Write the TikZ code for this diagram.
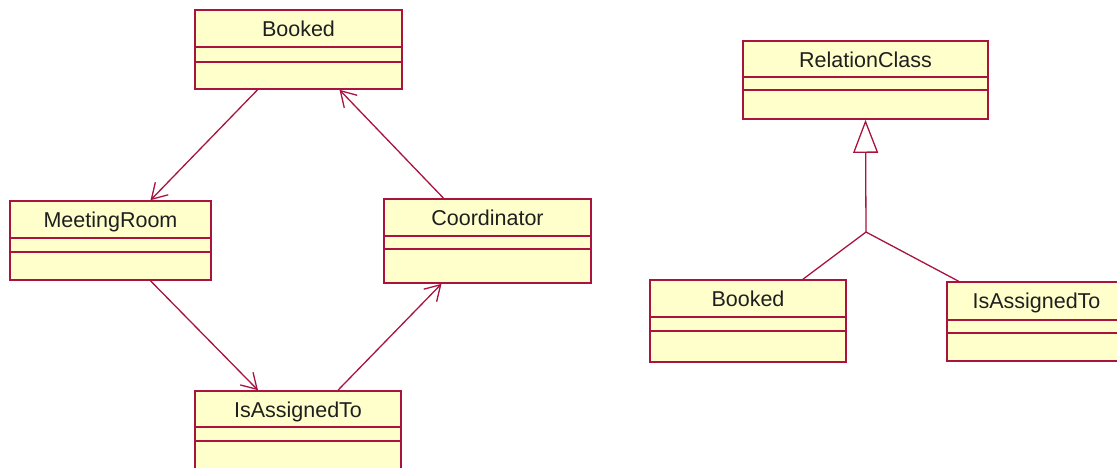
\documentclass[tikz,border=0pt]{standalone}
\usepackage{fontspec}
\setmainfont{Liberation Sans}
\usetikzlibrary{arrows.meta}
\definecolor{umlred}{RGB}{168,20,62}
\definecolor{umlfill}{RGB}{255,255,204}

\begin{document}
\begin{tikzpicture}[x=1pt, y=-1pt,
  classbox/.style={draw=umlred, fill=umlfill, line width=1.6pt, inner sep=0pt},
  title/.style={inner sep=0pt, anchor=base, text=black!88, font=\fontsize{21.5}{26}\selectfont},
  assoc/.style={draw=umlred, line width=1.3pt, -{Straight Barb[length=15pt,width=18pt]}},
  gen/.style={draw=umlred, line width=1.3pt}]
  \useasboundingbox (0,0) rectangle (1117,467);
  % left part: the cycle of associations
  \node[classbox, minimum width=207pt, minimum height=79pt] (booked) at (298.5,49.5) {};
  \node[classbox, minimum width=201pt, minimum height=79pt] (meeting) at (110.5,240.5) {};
  \node[classbox, minimum width=207pt, minimum height=84pt] (coord) at (487.5,241) {};
  \node[classbox, minimum width=206pt, minimum height=80pt] (isa) at (298,431) {};
  % right part: generalisation
  \node[classbox, minimum width=245pt, minimum height=78pt] (relclass) at (865.5,80) {};
  \node[classbox, minimum width=196pt, minimum height=82pt] (booked2) at (748,321) {};
  \node[classbox, minimum width=179pt, minimum height=79pt] (isa2) at (1036.5,321.5) {};
  \foreach \c/\a/\b/\t in {booked/38/53/Booked, meeting/38/52/MeetingRoom, coord/38/51/Coordinator,
      isa/37/51/IsAssignedTo, relclass/37/50/RelationClass, booked2/38/52/Booked, isa2/39/52/IsAssignedTo} {
    \draw[classbox] ([yshift=-\a pt]\c.north west) -- ([yshift=-\a pt]\c.north east);
    \draw[classbox] ([yshift=-\b pt]\c.north west) -- ([yshift=-\b pt]\c.north east);
    \node[title] (\c-t) at ([yshift=-27pt]\c.north) {\t};
  }
  \draw[assoc] ([xshift=-41pt]booked.south) -- ([xshift=40pt]meeting.north);
  \draw[assoc] ([xshift=40pt]meeting.south) -- ([xshift=-40pt]isa.north);
  \draw[assoc] ([xshift=40pt]isa.north) -- ([xshift=-46pt]coord.south);
  \draw[assoc] ([xshift=-44pt]coord.north) -- ([xshift=41pt]booked.south);
  \coordinate (joint) at (866,232);
  \draw[gen, -{Triangle[open,length=33pt,width=25pt,fill=white]}] (joint) -- (relclass.south);
  \draw[gen] ([xshift=55pt]booked2.north) -- (joint) -- ([xshift=-78pt]isa2.north);
\end{tikzpicture}
\end{document}
